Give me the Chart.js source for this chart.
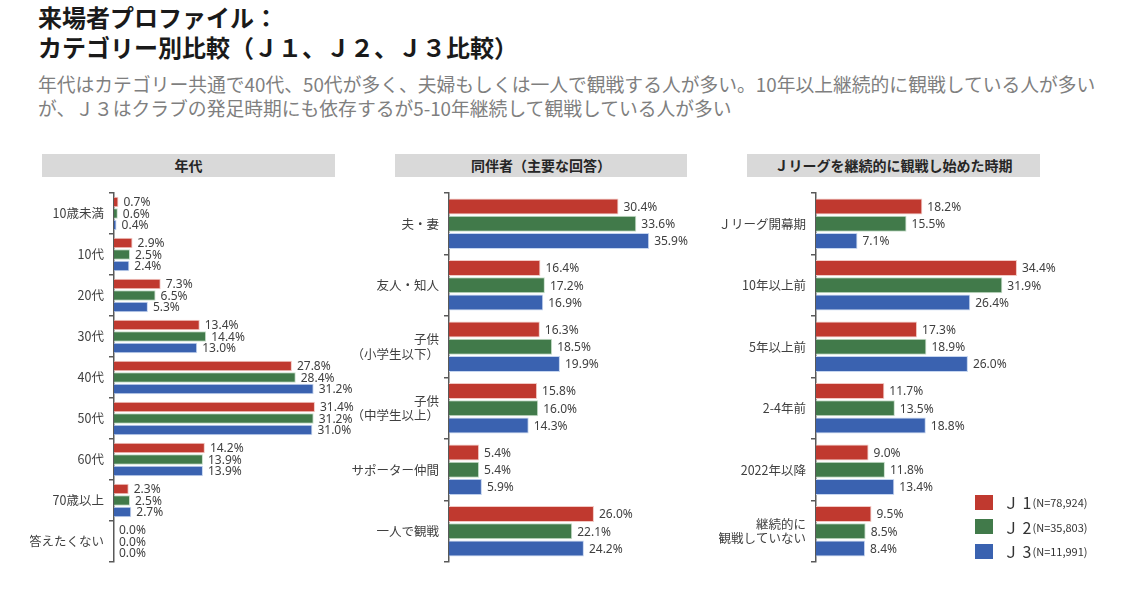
<!DOCTYPE html>
<html lang="ja">
<head>
<meta charset="utf-8">
<script src="https://cdn.jsdelivr.net/npm/chart.js@4.4.1/dist/chart.umd.min.js"></script>
<style>
  body { margin: 0; width: 1126px; height: 614px; background: #fff; position: relative; overflow: hidden;
         font-family: "Noto Sans CJK JP", "Noto Sans", sans-serif; }
  .title { position: absolute; left: 38px; top: 2px; font-size: 24px; font-weight: bold; color: #1a1a1a; line-height: 30px; }
  .sub { position: absolute; left: 38px; top: 72px; font-size: 18.8px; color: #7f7f7f; line-height: 24px; white-space: nowrap; }
  .head { position: absolute; top: 154px; height: 23px; background: #d9d9d9; font-size: 14px; font-weight: bold;
          color: #262626; text-align: center; line-height: 23px; }
  canvas { position: absolute; }
  .legend { position: absolute; left: 975px; top: 490px; font-size: 16px; color: #333; }
  .legend div { height: 24.5px; display: flex; align-items: center; white-space: nowrap; }
  .legend i { display: inline-block; width: 18px; height: 15px; margin-right: 10px; }
  .legend small { font-size: 11px; margin-left: 1px; }
</style>
</head>
<body>
<div class="title">来場者プロファイル：<br>カテゴリー別比較（Ｊ１、Ｊ２、Ｊ３比較）</div>
<div class="sub">年代はカテゴリー共通で40代、50代が多く、夫婦もしくは一人で観戦する人が多い。10年以上継続的に観戦している人が多い<br>が、Ｊ３はクラブの発足時期にも依存するが5-10年継続して観戦している人が多い</div>

<div class="head" style="left:42px;width:293px;">年代</div>
<div class="head" style="left:395px;width:292px;">同伴者（主要な回答）</div>
<div class="head" style="left:747px;width:293px;">Ｊリーグを継続的に観戦し始めた時期</div>

<canvas id="age" style="left:30px;top:189px;width:330px;height:380px;"></canvas>
<canvas id="comp" style="left:340px;top:189px;width:360px;height:380px;"></canvas>
<canvas id="since" style="left:700px;top:189px;width:360px;height:380px;"></canvas>

<div class="legend">
  <div><i style="background:#c0392f"></i>Ｊ 1<small>(N=78,924)</small></div>
  <div><i style="background:#417a4a"></i>Ｊ 2<small>(N=35,803)</small></div>
  <div><i style="background:#3a62b0"></i>Ｊ 3<small>(N=11,991)</small></div>
</div>

<script>
const seriesNames = ['J1', 'J2', 'J3'];

const ageLabels = ['10歳未満', '10代', '20代', '30代', '40代', '50代', '60代', '70歳以上', '答えたくない'];
const ageJ1 = [0.7, 2.9, 7.3, 13.4, 27.8, 31.4, 14.2, 2.3, 0.0];
const ageJ2 = [0.6, 2.5, 6.5, 14.4, 28.4, 31.2, 13.9, 2.5, 0.0];
const ageJ3 = [0.4, 2.4, 5.3, 13.0, 31.2, 31.0, 13.9, 2.7, 0.0];

const compLabels = ['夫・妻', '友人・知人', ['子供', '（小学生以下）'], ['子供', '（中学生以上）'], 'サポーター仲間', '一人で観戦'];
const compJ1 = [30.4, 16.4, 16.3, 15.8, 5.4, 26.0];
const compJ2 = [33.6, 17.2, 18.5, 16.0, 5.4, 22.1];
const compJ3 = [35.9, 16.9, 19.9, 14.3, 5.9, 24.2];

const sinceLabels = ['Ｊリーグ開幕期', '10年以上前', '5年以上前', '2-4年前', '2022年以降', ['継続的に', '観戦していない']];
const sinceJ1 = [18.2, 34.4, 17.3, 11.7, 9.0, 9.5];
const sinceJ2 = [15.5, 31.9, 18.9, 13.5, 11.8, 8.5];
const sinceJ3 = [7.1, 26.4, 26.0, 18.8, 13.4, 8.4];

const fills = ['#c0392f', '#417a4a', '#3a62b0'];
const edges = ['#f2c9c4', '#c9e0cc', '#c6d6f0'];

// value labels at the end of each bar
const valueLabels = {
    id: 'valueLabels',
    afterDatasetsDraw(chart) {
        const ctx = chart.ctx;
        ctx.save();
        ctx.font = '12px "Noto Sans", sans-serif';
        ctx.fillStyle = '#404040';
        ctx.textBaseline = 'middle';
        chart.data.datasets.forEach(function (ds, i) {
            chart.getDatasetMeta(i).data.forEach(function (bar, j) {
                ctx.fillText(ds.data[j].toFixed(1) + '%', bar.x + 5, bar.y + 1);
            });
        });
        ctx.restore();
    },
};

function makeChart(id, labels, series, maxX, axisWidth, padRight, catPct, barPct) {
    return new Chart(document.getElementById(id), {
        type: 'bar',
        data: {
            labels,
            datasets: series.map(function (data, i) {
                return {
                    label: seriesNames[i],
                    data,
                    backgroundColor: fills[i],
                    borderColor: edges[i],
                    borderWidth: 1,
                    categoryPercentage: catPct,
                    barPercentage: barPct,
                };
            }),
        },
        options: {
            indexAxis: 'y',
            responsive: false,
            animation: false,
            layout: { padding: { top: 4, bottom: 7, right: padRight, left: 0 } },
            plugins: { legend: { display: false }, tooltip: { enabled: false } },
            scales: {
                x: { display: false, min: 0, max: maxX },
                y: {
                    afterFit(scale) {
                        // fixed axis width, and no extra room for multi-line labels
                        scale.width = axisWidth;
                        scale.paddingTop = 0;
                        scale.paddingBottom = 0;
                    },
                    grid: { drawOnChartArea: false, offset: true, tickLength: 5, color: '#595959', lineWidth: 1.5 },
                    border: { color: '#595959', width: 1.5 },
                    ticks: {
                        padding: 5,
                        color: '#404040',
                        font: { family: '"Noto Sans CJK JP", sans-serif', size: 12.5, lineHeight: 1.15 },
                    },
                },
            },
        },
        plugins: [valueLabels],
    });
}

// canvas sizes set explicitly so the plot areas line up with the headers
['age', 'comp', 'since'].forEach(function (id) {
    const c = document.getElementById(id);
    c.width = parseInt(c.style.width);
    c.height = parseInt(c.style.height);
});

makeChart('age', ageLabels, [ageJ1, ageJ2, ageJ3], 35, 84, 22, 0.84, 0.92);
makeChart('comp', compLabels, [compJ1, compJ2, compJ3], 40, 109, 28, 0.84, 0.94);
makeChart('since', sinceLabels, [sinceJ1, sinceJ2, sinceJ3], 38, 116, 22, 0.84, 0.94);
</script>
</body>
</html>
